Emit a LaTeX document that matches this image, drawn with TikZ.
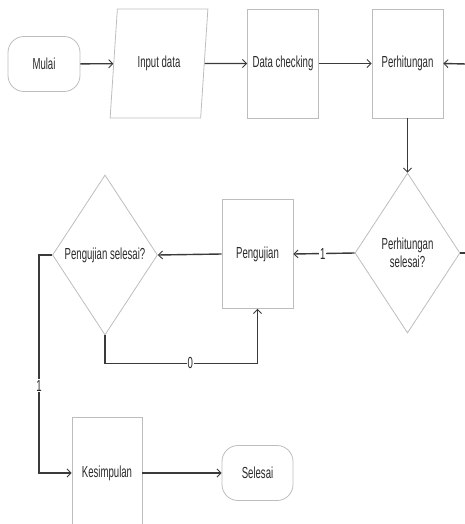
\documentclass[tikz,border=0pt]{standalone}
\usepackage{fontspec}
\setmainfont{Liberation Sans}[FakeStretch=0.6]
\usepackage{tikz}
\usetikzlibrary{positioning}
\usetikzlibrary{arrows.meta}
\usetikzlibrary{shapes.geometric}

\definecolor{garis}{HTML}{3A3A3A}
\definecolor{tepi}{HTML}{BDBDBD}
\definecolor{huruf}{HTML}{2A2A2A}

\tikzset{
    kotak/.style={draw=tepi, line width=0.8pt, minimum width=71pt, minimum height=109pt, inner sep=0pt},
    terminal/.style={draw=tepi, line width=0.8pt, rounded corners=16pt, minimum width=72pt, minimum height=55pt, inner sep=0pt},
    masukan/.style={draw=tepi, line width=0.8pt, trapezium, trapezium left angle=76, trapezium right angle=104,
        trapezium stretches=true, minimum width=98pt, minimum height=109pt, inner sep=0pt},
    keputusan/.style={draw=tepi, line width=0.8pt, diamond, minimum width=105pt, minimum height=160pt, inner sep=0pt},
    alur/.style={draw=garis, line width=1.4pt, -{Straight Barb[length=4pt,width=8pt,line width=0.9pt]}},
    garisan/.style={draw=garis, line width=1.4pt},
    ket/.style={fill=white, inner sep=1pt, font=\fontsize{16}{18}\selectfont}
}

\begin{document}
\begin{tikzpicture}[x=1pt, y=-1pt, font=\fontsize{16}{18}\selectfont, text=huruf]
    \useasboundingbox (0,0) rectangle (465,524);
    \clip (0,0) rectangle (465,524);

    % baris atas
    \node[terminal] (mulai) at (44,64) {Mulai};
    \node[masukan] (input) at (159,63.5) {Input data};
    \node[kotak] (cek) at (283,63.5) {Data checking};
    \node[kotak] (hitung) at (407.5,63.5) {Perhitungan};
    \coordinate (balik) at (466,64);

    % baris tengah
    \node[keputusan, label={[align=center]center:Perhitungan\\selesai?}] (tanyahitung) at (407.5,253) {};
    \node[kotak] (uji) at (257.5,254) {Pengujian};
    \node[keputusan, label={center:Pengujian selesai?}] (tanyauji) at (105,255) {};
    \coordinate (keluar) at (466,253);

    % baris bawah
    \node[kotak, minimum width=70pt, minimum height=112pt] (simpul) at (107,473) {Kesimpulan};
    \node[terminal, minimum width=71pt] (selesai) at (257.5,473) {Selesai};

    % penghubung
    \draw[alur] (mulai) -- (input);
    \draw[alur] (input) -- (cek);
    \draw[alur] (cek) -- (hitung);
    \draw[alur] (balik) -- (hitung.east);
    \draw[alur] (hitung.south) -- (tanyahitung.north);
    \draw[garisan] (tanyahitung.east) -- (keluar);
    \draw[alur] (tanyahitung.west) -- node[ket, pos=0.52] {1} (uji.east);
    \draw[alur] (uji.west) -- (tanyauji.east);
    \draw[alur] (tanyauji.south) -- ++(0,28) -| node[ket, pos=0.28] {0} (uji.south);
    \draw[alur] (tanyauji.west) -- ++(-13,0) |- node[ket, pos=0.3] {1} (simpul.west);
    \draw[alur] (simpul) -- (selesai);
\end{tikzpicture}
\end{document}
